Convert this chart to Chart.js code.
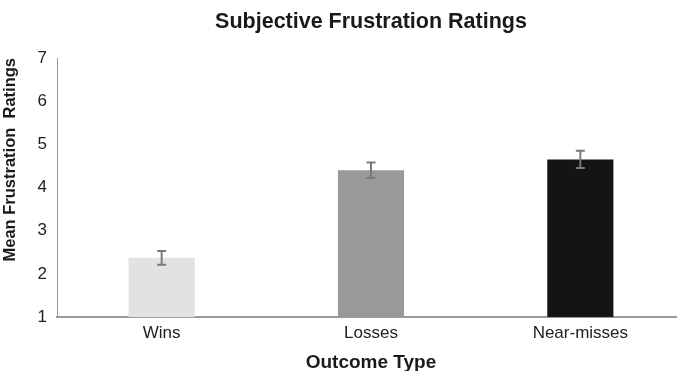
<!DOCTYPE html>
<html>
<head>
<meta charset="utf-8">
<script src="https://cdn.jsdelivr.net/npm/chart.js@4.4.0/dist/chart.umd.min.js"></script>
<style>
  html, body { margin: 0; padding: 0; background: #fff; overflow: hidden; }
  #wrap { width: 685px; height: 371px; }
</style>
</head>
<body>
<div id="wrap"><canvas id="chart" width="685" height="371"></canvas></div>
<script>
const categories = ['Wins', 'Losses', 'Near-misses'];
const meanRatings = [2.37, 4.40, 4.65];
const errors = [0.16, 0.18, 0.20];
const barColors = ['#e2e2e2', '#999999', '#141414'];
const yTicks = [1, 2, 3, 4, 5, 6, 7];

const FONT = 'Liberation Sans, Arial, sans-serif';

// chart heading, centred over the plot area rather than the canvas
const headingPlugin = {
  id: 'heading',
  afterDraw(chart) {
    const { ctx, chartArea } = chart;
    ctx.save();
    ctx.font = 'bold 21.5px ' + FONT;
    ctx.fillStyle = '#1a1a1a';
    ctx.textAlign = 'center';
    ctx.textBaseline = 'middle';
    ctx.fillText('Subjective Frustration Ratings', (chartArea.left + chartArea.right) / 2, 22);
    ctx.restore();
  }
};

// +/- error whiskers on each bar
const errorBarPlugin = {
  id: 'errorBars',
  afterDatasetsDraw(chart) {
    const { ctx } = chart;
    const meta = chart.getDatasetMeta(0);
    const y = chart.scales.y;
    ctx.save();
    ctx.strokeStyle = '#7a7a7a';
    ctx.lineWidth = 2;
    meta.data.forEach((bar, i) => {
      const x = bar.x;
      const top = y.getPixelForValue(meanRatings[i] + errors[i]);
      const bottom = y.getPixelForValue(meanRatings[i] - errors[i]);
      ctx.beginPath();
      ctx.moveTo(x, top);
      ctx.lineTo(x, bottom);
      ctx.moveTo(x - 4.5, top);
      ctx.lineTo(x + 4.5, top);
      ctx.moveTo(x - 4.5, bottom);
      ctx.lineTo(x + 4.5, bottom);
      ctx.stroke();
    });
    ctx.restore();
  }
};

new Chart(document.getElementById('chart'), {
  type: 'bar',
  data: {
    labels: categories,
    datasets: [{
      data: meanRatings,
      backgroundColor: barColors,
      borderWidth: 0,
      categoryPercentage: 1,
      barPercentage: 0.316
    }]
  },
  options: {
    responsive: false,
    devicePixelRatio: 1,
    animation: false,
    layout: { padding: { top: 58, left: 0, right: 0, bottom: 0 } },
    plugins: {
      legend: { display: false },
      tooltip: { enabled: false }
    },
    scales: {
      x: {
        grid: { display: false, drawTicks: false },
        border: { color: '#999999', width: 2 },
        ticks: { color: '#222', font: { family: FONT, size: 17 }, padding: 6 },
        title: {
          display: true,
          text: 'Outcome Type',
          color: '#1a1a1a',
          font: { family: FONT, size: 19, weight: 'bold', lineHeight: 0.9 },
          padding: { top: 0, bottom: 0 }
        },
        afterFit(scale) { scale.height = 54; }
      },
      y: {
        min: 1,
        max: 7,
        grid: { display: false, drawTicks: false },
        border: { color: '#999999', width: 1 },
        afterBuildTicks(scale) { scale.ticks = yTicks.map(v => ({ value: v })); },
        ticks: { color: '#222', font: { family: FONT, size: 17 }, padding: 10 },
        title: {
          display: true,
          text: 'Mean Frustration  Ratings',
          align: 'end',
          color: '#1a1a1a',
          font: { family: FONT, size: 16.5, weight: 'bold' },
          padding: { top: 1, bottom: 0 }
        },
        afterFit(scale) { scale.width = 57; }
      }
    }
  },
  plugins: [headingPlugin, errorBarPlugin]
});
</script>
</body>
</html>
